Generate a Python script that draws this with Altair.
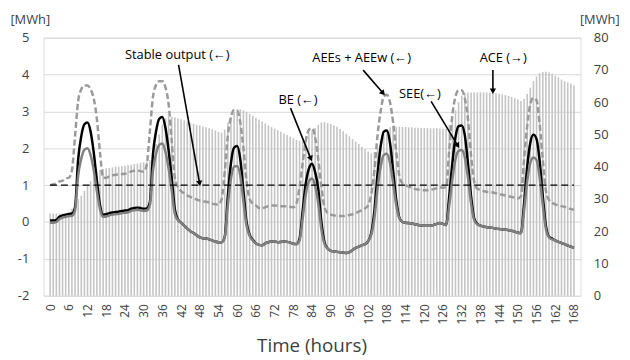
import altair as alt
import pandas as pd

hours = list(range(169))
x_ticks = list(range(0, 169, 6))
left_ticks = [-2, -1, 0, 1, 2, 3, 4, 5]
right_ticks = [0, 10, 20, 30, 40, 50, 60, 70, 80]
stable_output = 1.0

# ACE (right axis, MWh)
ace = [25.5, 25.5, 25.5, 25.5, 25.5, 25.5, 25.5,
       27, 28.5, 30, 31, 32.5, 34, 35.5, 37, 38.5, 39, 39.3,
       39.5, 39.6, 39.8, 40, 40, 40.2, 40.3, 40.5, 40.6, 40.8, 41, 41.2, 41.4,
       41.6, 42, 44, 47, 50, 53, 55, 55.5, 55.5, 55.3, 55,
       54.7, 54.3, 54, 53.6, 53.3, 53, 52.8, 52.5, 52.2, 51.9, 51.6, 51.2, 50.8, 50.5,
       51.5, 53.5, 55.5, 57, 57.8, 57.8, 57.5, 57, 56.4, 55.8,
       55.2, 54.6, 54, 53.4, 52.8, 52.3, 51.8, 51.3, 50.8, 50.3, 49.8, 49.3, 48.8, 48.3,
       48, 48, 49.5, 50.5, 51.2, 52, 53, 53.7, 53.8,
       53.5, 53.2, 52.8, 52.4, 51.7, 51, 50.2, 49.4, 48.6, 47.8, 47, 46.2, 45.4, 44.7,
       44.1, 44.5, 46, 48, 50, 51.5, 52.2, 52.4, 52.4, 52.4, 52.3,
       52.3, 52.2, 52.2, 52.1, 52.1, 52, 52, 52, 51.9, 51.9, 51.9, 51.8, 51.8, 51.8,
       53, 55, 57.5, 60, 62, 62.8, 63, 63, 63, 63,
       63, 63, 63, 63, 63, 62.8, 62.6, 62.4, 62.2, 61.9, 61.6, 61.2, 60.8, 60.4,
       61, 62.5, 64.5, 66.5, 68, 69, 69.4, 69.4, 69.2, 68.8,
       68.2, 67.7, 67, 66.5, 66.1, 65.7, 65.2]

# SEE (left axis)
see = [-0.02, -0.02, 0.0, 0.08, 0.12, 0.14, 0.16,
       0.17, 0.31, 1.26, 1.72, 1.96, 2.0, 1.81, 1.40, 0.83, 0.35, 0.14,
       0.15, 0.18, 0.2, 0.21, 0.22, 0.24, 0.25, 0.26, 0.3, 0.32, 0.33, 0.32, 0.3,
       0.31, 0.45, 1.40, 1.86, 2.09, 2.13, 1.9, 1.45, 0.85, 0.22, 0.05,
       -0.02, -0.1, -0.18, -0.25, -0.3, -0.36, -0.42, -0.44, -0.45, -0.47, -0.5, -0.53, -0.55, -0.55,
       -0.42, 0.45, 1.17, 1.5, 1.52, 1.25, 0.55, -0.1, -0.38, -0.5,
       -0.58, -0.62, -0.63, -0.58, -0.55, -0.53, -0.52, -0.55, -0.54, -0.53, -0.54, -0.56, -0.59, -0.6,
       -0.5, 0.1, 0.75, 1.1, 1.18, 0.98, 0.5, -0.2, -0.6,
       -0.72, -0.78, -0.8, -0.81, -0.82, -0.83, -0.84, -0.82, -0.76, -0.7, -0.67, -0.63, -0.6, -0.52,
       -0.35, 0.1, 0.9, 1.5, 1.82, 1.85, 1.6, 1.05, 0.45, 0.1, 0.0,
       -0.02, -0.03, -0.04, -0.06, -0.08, -0.09, -0.1, -0.1, -0.1, -0.08, -0.05, -0.03, -0.05, -0.08,
       0.45, 1.15, 1.7, 1.93, 1.95, 1.75, 1.2, 0.5, 0.05, -0.07,
       -0.1, -0.12, -0.14, -0.15, -0.16, -0.18, -0.19, -0.2, -0.21, -0.22, -0.24, -0.26, -0.29, -0.3,
       0.3, 1.1, 1.6, 1.75, 1.68, 1.2, 0.45, -0.2, -0.42, -0.47,
       -0.5, -0.54, -0.57, -0.6, -0.64, -0.67, -0.7]

# BE (left axis)
be = [0.04, 0.04, 0.06, 0.14, 0.18, 0.2, 0.22,
      0.23, 0.40, 1.70, 2.33, 2.65, 2.7, 2.45, 1.88, 1.12, 0.46, 0.2,
      0.21, 0.24, 0.26, 0.27, 0.28, 0.3, 0.31, 0.32, 0.36, 0.38, 0.39, 0.38, 0.36,
      0.37, 0.54, 1.85, 2.47, 2.8, 2.85, 2.55, 1.95, 1.2, 0.35, 0.07,
      -0.02, -0.1, -0.18, -0.25, -0.3, -0.36, -0.42, -0.44, -0.45, -0.47, -0.5, -0.53, -0.55, -0.55,
      -0.4, 0.7, 1.6, 2.02, 2.06, 1.7, 0.85, 0.0, -0.35, -0.48,
      -0.58, -0.62, -0.63, -0.58, -0.55, -0.53, -0.52, -0.55, -0.54, -0.53, -0.54, -0.56, -0.59, -0.6,
      -0.45, 0.3, 1.05, 1.45, 1.58, 1.35, 0.9, 0.0, -0.55,
      -0.72, -0.78, -0.8, -0.81, -0.82, -0.83, -0.84, -0.82, -0.76, -0.7, -0.67, -0.63, -0.6, -0.52,
      -0.3, 0.3, 1.3, 2.05, 2.45, 2.48, 2.15, 1.4, 0.6, 0.12, 0.0,
      -0.02, -0.03, -0.04, -0.06, -0.08, -0.09, -0.1, -0.1, -0.1, -0.08, -0.05, -0.03, -0.05, -0.08,
      0.7, 1.6, 2.3, 2.6, 2.62, 2.35, 1.6, 0.7, 0.1, -0.05,
      -0.1, -0.12, -0.14, -0.15, -0.16, -0.18, -0.19, -0.2, -0.21, -0.22, -0.24, -0.26, -0.29, -0.3,
      0.5, 1.5, 2.15, 2.37, 2.25, 1.65, 0.7, -0.1, -0.4, -0.45,
      -0.5, -0.54, -0.57, -0.6, -0.64, -0.67, -0.7]

# AEEs + AEEw (left axis)
aee = [1.0, 1.02, 1.05, 1.1, 1.12, 1.18, 1.2,
       1.40, 2.33, 3.28, 3.6, 3.7, 3.7, 3.6, 3.34, 2.8, 1.89, 1.2,
       1.2, 1.24, 1.27, 1.28, 1.29, 1.3, 1.31, 1.33, 1.37, 1.39, 1.4, 1.38, 1.36,
       1.56, 2.47, 3.4, 3.72, 3.82, 3.82, 3.65, 3.2, 2.2, 1.2, 0.95,
       0.84, 0.78, 0.72, 0.68, 0.64, 0.61, 0.58, 0.56, 0.55, 0.53, 0.5, 0.48, 0.47, 0.62,
       1.35, 2.35, 2.85, 3.03, 3.02, 2.7, 2.0, 1.1, 0.62, 0.5,
       0.45, 0.38, 0.37, 0.4, 0.43, 0.45, 0.45, 0.44, 0.43, 0.43, 0.42, 0.41, 0.4, 0.5,
       0.95, 1.6, 2.2, 2.5, 2.55, 2.3, 1.7, 0.95, 0.4,
       0.24, 0.2, 0.18, 0.17, 0.16, 0.16, 0.17, 0.19, 0.21, 0.24, 0.28, 0.32, 0.37, 0.45,
       0.75, 1.4, 2.35, 3.0, 3.4, 3.45, 3.25, 2.7, 1.9, 1.25, 1.05,
       1.0, 0.96, 0.93, 0.9, 0.88, 0.87, 0.86, 0.86, 0.87, 0.89, 0.92, 0.94, 0.93, 0.95,
       1.95, 2.9, 3.4, 3.57, 3.57, 3.35, 2.8, 1.8, 1.1, 0.9,
       0.87, 0.84, 0.82, 0.81, 0.8, 0.78, 0.76, 0.74, 0.72, 0.7, 0.68, 0.66, 0.64, 0.7,
       1.7, 2.6, 3.2, 3.37, 3.3, 2.65, 1.7, 0.85, 0.6, 0.52,
       0.48, 0.45, 0.43, 0.41, 0.38, 0.35, 0.33]

# annotations
label_text = ["Stable output (\u2190)", "BE (\u2190)", "AEEs + AEEw (\u2190)", "SEE(\u2190)", "ACE (\u2192)"]
label_hour = [40.8, 79.5, 99.9, 118.6, 145.3]
label_val = [4.53, 3.32, 4.44, 3.48, 4.44]
arrow_h1 = [41.2, 77.1, 100.4, 122.2, 142.0]
arrow_v1 = [4.26, 3.09, 4.12, 3.27, 4.12]
arrow_h2 = [47.9, 83.5, 106.6, 130.6, 142.0]
arrow_v2 = [1.07, 1.74, 3.51, 2.09, 3.57]
arrow_angle = [170, 158, 139, 149, 180]

df = pd.DataFrame({"hour": hours, "ACE": ace, "SEE": see, "BE": be, "AEE": aee})
stable_df = pd.DataFrame({"hour": [0, 168], "v": [stable_output, stable_output]})
lab_df = pd.DataFrame({"hour": label_hour, "v": label_val, "t": label_text})
arr_df = pd.DataFrame({"hour": arrow_h1, "v": arrow_v1, "h2": arrow_h2, "v2": arrow_v2, "ang": arrow_angle})

FONT = "Open Sans"
TXT = "#404040"

xscale = alt.Scale(domain=[-0.5, 168.5], nice=False, zero=False)
xaxis = alt.Axis(values=x_ticks, labelAngle=270, grid=False, ticks=False, domain=False,
                 labelPadding=8, labelFontSize=12, labelFont=FONT, labelColor=TXT,
                 title="Time (hours)", titleFont=FONT, titleFontSize=19, titleFontWeight="normal",
                 titleColor=TXT, titleY=56, titleBaseline="alphabetic", titleX=271)
ylscale = alt.Scale(domain=[-2, 5], nice=False, zero=False)
ylaxis = alt.Axis(values=left_ticks, orient="left", grid=True, gridColor="#d9d9d9", gridWidth=1,
                  ticks=False, domain=False, labelPadding=15, labelFontSize=13, labelFont=FONT,
                  labelColor=TXT, labelExpr="'' + datum.value",
                  title="[MWh]", titleAngle=0, titleX=-14, titleY=-18,
                  titleAlign="center", titleBaseline="middle", titleFont=FONT, titleFontSize=13,
                  titleFontWeight="normal", titleColor=TXT)
yrscale = alt.Scale(domain=[0, 80], nice=False, zero=True)
yraxis = alt.Axis(values=right_ticks, orient="right", grid=False, ticks=False, domain=False,
                  labelPadding=13, labelFontSize=13, labelFont=FONT, labelColor=TXT,
                  title="[MWh]", titleAngle=0, titleX=19, titleY=-18, titleAlign="center",
                  titleBaseline="middle", titleFont=FONT, titleFontSize=13,
                  titleFontWeight="normal", titleColor=TXT)


def X(field="hour"):
    return alt.X(f"{field}:Q", scale=xscale, axis=xaxis, title="Time (hours)")


def YL(field):
    return alt.Y(f"{field}:Q", scale=ylscale, axis=ylaxis, title="[MWh]")


bars = alt.Chart(df).mark_bar(size=1.6, color="#c4c4c4").encode(
    x=X(),
    y=alt.Y("ACE:Q", scale=yrscale, axis=yraxis, title="[MWh]"),
)

aee_line = alt.Chart(df).mark_line(color="#9a9a9a", strokeWidth=2.5, strokeDash=[6, 3],
                                   interpolate="monotone").encode(x=X(), y=YL("AEE"))
be_line = alt.Chart(df).mark_line(color="#000000", strokeWidth=2.5,
                                  interpolate="monotone").encode(x=X(), y=YL("BE"))
see_line = alt.Chart(df).mark_line(color="#808080", strokeWidth=2.5,
                                   interpolate="monotone").encode(x=X(), y=YL("SEE"))
stable_line = alt.Chart(stable_df).mark_line(color="#000000", strokeWidth=1.5,
                                             strokeDash=[7, 4]).encode(x=X(), y=YL("v"))
labels = alt.Chart(lab_df).mark_text(font=FONT, fontSize=13, color="#000000",
                                     align="center", baseline="middle").encode(
    x=X(), y=YL("v"), text="t:N")
arrows = alt.Chart(arr_df).mark_rule(color="#000000", strokeWidth=1.6).encode(
    x=X(), y=YL("v"), x2="h2:Q", y2="v2:Q")
heads = alt.Chart(arr_df).mark_point(shape="triangle", filled=True, size=40, color="#000000",
                                     opacity=1).encode(
    x=alt.X("h2:Q", scale=xscale, axis=xaxis, title="Time (hours)"),
    y=alt.Y("v2:Q", scale=ylscale, axis=ylaxis, title="[MWh]"),
    angle=alt.Angle("ang:Q", scale=None))

left = alt.layer(aee_line, be_line, see_line, stable_line, arrows, heads, labels)

chart = alt.layer(bars, left).resolve_scale(y="independent").properties(
    width=543, height=261,
    padding={"left": 36, "top": 28, "right": 42, "bottom": 63},
    autosize=alt.AutoSizeParams(type="none"),
).configure_view(stroke=None).configure(background="white")

chart.save("out.html", embed_options={"renderer": "svg", "actions": False})
